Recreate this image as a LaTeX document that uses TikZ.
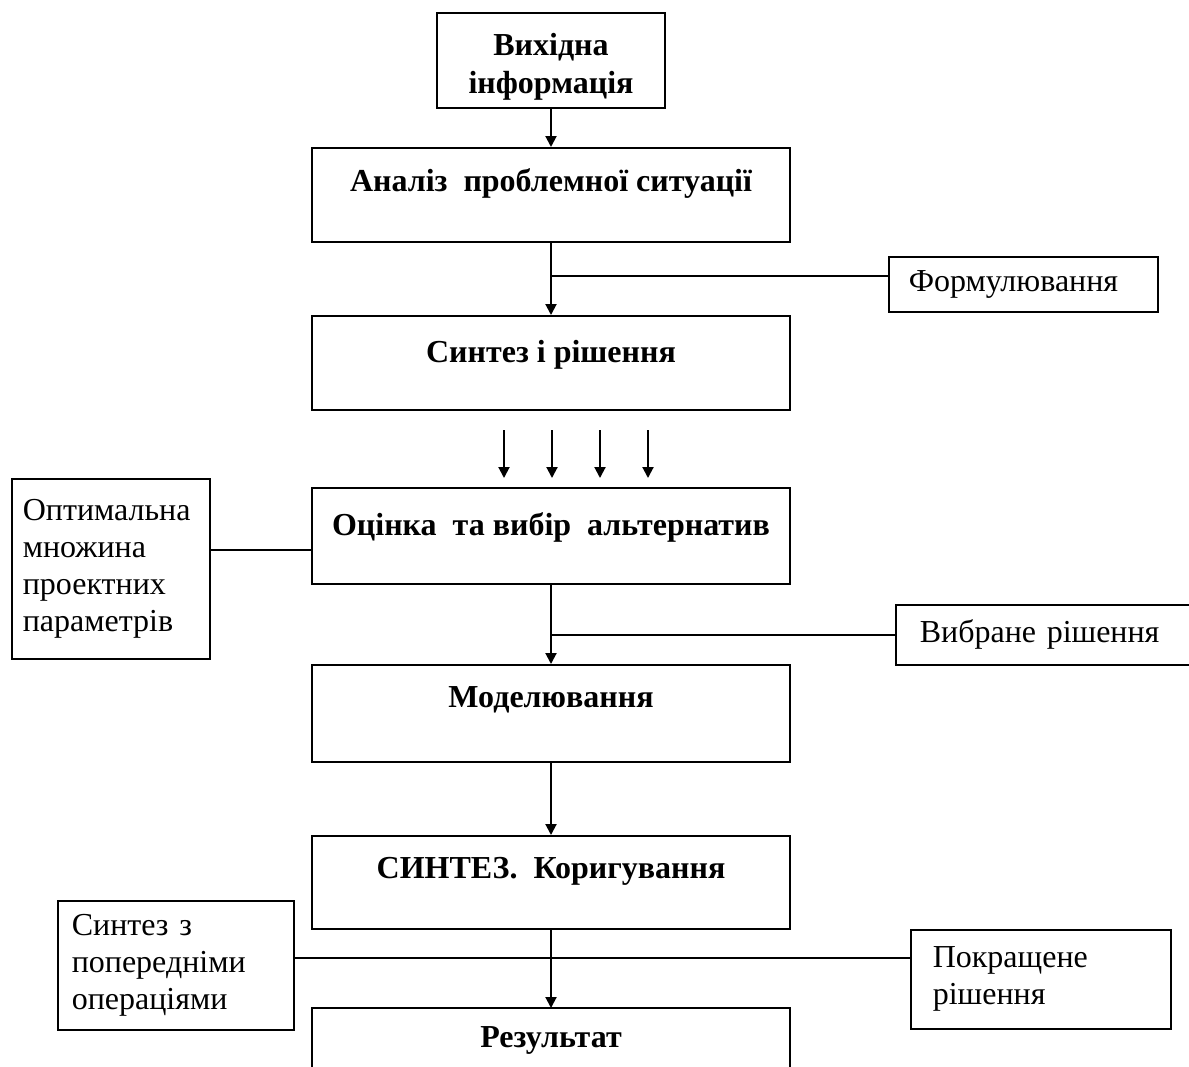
\documentclass[tikz,border=0pt]{standalone}
\usepackage{fontspec}
\setmainfont{Liberation Serif}
\usetikzlibrary{arrows.meta}
\begin{document}
\begin{tikzpicture}[x=0.5pt,y=-0.5pt,
  every node/.style={font=\fontsize{16}{18.5}\selectfont},
  ln/.style={line width=1pt},
  arr/.style={line width=1pt,-{Triangle[length=5.5pt,width=5.5pt]}},
  mbox/.style={draw, line width=1pt, minimum width=239pt, minimum height=47pt, inner sep=0pt},
  mtext/.style={font=\fontsize{16}{18.5}\selectfont\bfseries},
  sbox/.style 2 args={draw, line width=0.8pt, anchor=north west, align=left,
     text width=#1, minimum height=#2, inner xsep=10pt, inner ysep=0pt},
]
\useasboundingbox (0,0) rectangle (1189,1066);

% main column
\node[draw, line width=1pt, minimum width=114pt, minimum height=47.5pt, inner sep=0pt] (vx) at (551,60.5) {};
\node[align=center, inner sep=0pt, font=\fontsize{16}{19}\selectfont\bfseries] (vxt) at (551,67) {Вихідна\\інформація};
\node[mbox, label={[mtext,anchor=center,yshift=-18pt]north:Аналіз\ \ проблемної ситуації}] (an) at (551,195) {};
\node[mbox, label={[mtext,anchor=center,yshift=-20pt]north:Синтез і рішення}] (sy) at (551,363) {};
\node[mbox, minimum height=48pt, label={[mtext,anchor=center,yshift=-20pt]north:Оцінка\ \ та вибір\ \ альтернатив}] (oc) at (551,536) {};
\node[mbox, minimum height=48.5pt, label={[mtext,anchor=center,yshift=-18pt]north:Моделювання}] (mo) at (551,713.5) {};
\node[mbox, minimum height=46.5pt, label={[mtext,anchor=center,yshift=-18pt]north:СИНТЕЗ.\ \ Коригування}] (sk) at (551,882.5) {};
\node[mtext, minimum width=239pt, minimum height=29pt, inner sep=0pt] (re) at (551,1040) {Результат};
\draw[ln] (re.north west |- 0,1070) -- (re.north west |- 0,1008) -- (re.north east |- 0,1008) -- (re.north east |- 0,1070);
\coordinate (retop) at (551,1008);

% side boxes
\node[sbox={114.5pt}{27.5pt}] (fo) at (888,256) {\raisebox{-1.5pt}{Формулювання}};
\node[sbox={127pt}{30pt}, inner xsep=12pt] (vy) at (895,604) {Вибране рішення};
\node[sbox={88pt}{90pt}, inner xsep=5.5pt] (op) at (11,478) {Оптимальна\\множина\\проектних\\параметрів};
\node[sbox={104pt}{64.5pt}, inner xsep=7pt] (sz) at (57,900) {Синтез з\\попередніми\\операціями};
\node[sbox={108pt}{49.5pt}, inner xsep=11pt] (po) at (910,929) {Покращене\\рішення};

% connectors
\draw[arr] (vx.south) -- (an.north);
\draw[arr] (an.south) -- (sy.north);
\coordinate (j1) at (552,276);
\draw[ln] (j1) -- (j1 -| fo.west);

\foreach \i/\x in {1/504,2/552,3/600,4/648}{
  \coordinate (t\i) at (\x,430);
  \coordinate (h\i) at (\x,478);
  \draw[arr] (t\i) -- (h\i);
}

\coordinate (j2) at (0,550);
\draw[ln] (j2 -| op.east) -- (j2 -| oc.west);

\draw[arr] (oc.south) -- (mo.north);
\draw[ln] (oc.south |- vy.west) -- (vy.west);

\draw[arr] (mo.south) -- (sk.north);

\coordinate (j3) at (0,958);
\draw[ln] (j3 -| sz.east) -- (j3 -| po.west);
\draw[arr] (sk.south) -- (retop);
\end{tikzpicture}
\end{document}
